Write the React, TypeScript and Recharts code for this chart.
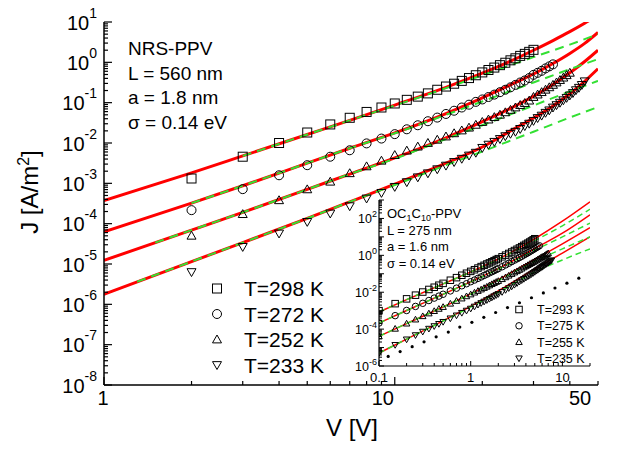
import React from 'react';
import { ComposedChart, Line, Scatter, XAxis, YAxis } from 'recharts';

const FONT = '"Liberation Sans", Arial, Helvetica, sans-serif';
const RED = '#ff0000';
const GREEN = '#33e033';

// ---------- main panel (NRS-PPV), values as log10(J [A/m2]) ----------
const V_MEAS = [2, 3, 4, 5, 6, 7, 8, 9, 10, 11, 12, 13, 14, 15, 16, 17, 18, 19, 20, 21, 22, 23, 24, 25, 26, 27, 28, 29, 30, 31, 32, 33, 34, 35, 36, 37, 38, 39, 40, 41, 42, 43, 44, 45];
const LOGJ_298 = [-2.88, -2.34, -2.0, -1.74, -1.54, -1.375, -1.23, -1.12, -1.02, -0.93, -0.85, -0.77, -0.68, -0.6, -0.53, -0.46, -0.39, -0.32, -0.25, -0.19, -0.13, -0.07, -0.01, 0.05, 0.1, 0.16, 0.21, 0.26, 0.31];
const LOGJ_272 = [-3.665, -3.144, -2.8, -2.55, -2.34, -2.18, -2.01, -1.89, -1.78, -1.66, -1.56, -1.46, -1.37, -1.28, -1.2, -1.12, -1.05, -0.98, -0.92, -0.86, -0.8, -0.74, -0.68, -0.62, -0.56, -0.5, -0.45, -0.39, -0.31, -0.26, -0.21, -0.15, -0.1, -0.05];
const LOGJ_252 = [-4.3, -3.764, -3.42, -3.15, -2.96, -2.75, -2.58, -2.44, -2.3, -2.19, -2.09, -2.0, -1.92, -1.84, -1.76, -1.69, -1.62, -1.55, -1.48, -1.42, -1.36, -1.3, -1.24, -1.18, -1.12, -1.06, -1.01, -0.95, -0.86, -0.8, -0.74, -0.68, -0.62, -0.56, -0.5, -0.44, -0.38, -0.32, -0.26];
const LOGJ_233 = [-5.2, -4.576, -4.243, -3.955, -3.747, -3.566, -3.375, -3.236, -3.087, -2.97, -2.85, -2.75, -2.65, -2.56, -2.47, -2.39, -2.31, -2.24, -2.12, -2.04, -1.97, -1.9, -1.83, -1.77, -1.72, -1.65, -1.58, -1.52, -1.45, -1.38, -1.32, -1.25, -1.19, -1.12, -1.06, -1.0, -0.94, -0.88, -0.82, -0.76, -0.69, -0.63, -0.56, -0.47];

// full model (red)
const V_FIT = [1, 2, 3, 5, 7, 10, 15, 20, 25, 30, 35, 40, 45, 50];
const FIT_298 = [-3.43, -2.74, -2.32, -1.79, -1.44, -1.06, -0.62, -0.27, 0.03, 0.3, 0.54, 0.76, 0.97, 1.17];
const FIT_272 = [-4.2, -3.49, -3.06, -2.5, -2.13, -1.75, -1.27, -0.88, -0.56, -0.29, -0.03, 0.22, 0.47, 0.74];
const FIT_252 = [-4.91, -4.16, -3.72, -3.15, -2.77, -2.37, -1.87, -1.47, -1.14, -0.84, -0.55, -0.26, 0.02, 0.3];
const FIT_233 = [-5.75, -4.94, -4.47, -3.87, -3.46, -3.02, -2.5, -2.1, -1.7, -1.38, -1.08, -0.78, -0.47, -0.16];

// density-only model (green dashed)
const V_DRIFT_298 = [3, 5, 7, 10, 15, 20, 30, 40, 50];
const DRIFT_298 = [-2.32, -1.79, -1.44, -1.07, -0.64, -0.32, 0.13, 0.44, 0.7];
const V_DRIFT_272 = [2, 3, 5, 7, 10, 15, 20, 30, 40, 50];
const DRIFT_272 = [-3.49, -3.06, -2.5, -2.13, -1.76, -1.3, -0.97, -0.5, -0.17, 0.08];
const V_DRIFT_252 = [1.5, 2, 3, 5, 7, 10, 15, 20, 30, 40, 50];
const DRIFT_252 = [-4.47, -4.16, -3.72, -3.15, -2.77, -2.39, -1.9, -1.56, -1.07, -0.72, -0.46];
const V_DRIFT_233 = [1.3, 2, 3, 5, 7, 10, 15, 20, 30, 40, 50];
const DRIFT_233 = [-5.44, -4.94, -4.47, -3.87, -3.46, -3.04, -2.55, -2.21, -1.72, -1.37, -1.11];

const MAIN_LABELS = ['T=298 K', 'T=272 K', 'T=252 K', 'T=233 K'];
const MAIN_TEXT = ['NRS-PPV', 'L = 560 nm', 'a = 1.8 nm', '\u03c3 = 0.14 eV'];

// ---------- inset (OC1C10-PPV) ----------
const V_INSET = [0.1, 0.15, 0.2, 0.25, 0.3, 0.35, 0.4, 0.45, 0.5, 0.6, 0.7, 0.8, 0.9, 1.0, 1.1, 1.2, 1.3, 1.4, 1.5, 1.6, 1.7, 1.8, 1.9, 2.0, 2.2, 2.4, 2.6, 2.8, 3.0, 3.2, 3.4, 3.6, 3.8, 4.0, 4.2, 4.4, 4.6, 4.8, 5.0, 5.2, 5.4, 5.6, 5.8, 6.0, 6.2, 6.4, 6.6, 6.8, 7.0, 7.2, 7.4, 7.6];
const INS_293 = [-3.0, -2.62, -2.36, -2.16, -1.99, -1.85, -1.73, -1.62, -1.52, -1.35, -1.21, -1.08, -0.97, -0.87, -0.78, -0.69, -0.61, -0.54, -0.47, -0.41, -0.35, -0.29, -0.23, -0.18, -0.08, 0.01, 0.1, 0.18, 0.26, 0.33, 0.4, 0.47, 0.54, 0.6, 0.66, 0.72, 0.78, 0.84, 0.9];
const INS_275 = [-3.67, -3.27, -2.99, -2.77, -2.6, -2.45, -2.32, -2.21, -2.11, -1.93, -1.78, -1.65, -1.54, -1.43, -1.34, -1.25, -1.17, -1.09, -1.02, -0.95, -0.89, -0.83, -0.77, -0.72, -0.62, -0.52, -0.43, -0.34, -0.26, -0.19, -0.12, -0.05, 0.02, 0.08, 0.14, 0.2, 0.26, 0.31, 0.37, 0.42, 0.47, 0.52];
const INS_255 = [-4.39, -3.98, -3.7, -3.48, -3.3, -3.15, -3.02, -2.9, -2.8, -2.62, -2.47, -2.34, -2.22, -2.12, -2.02, -1.93, -1.85, -1.77, -1.7, -1.63, -1.56, -1.5, -1.44, -1.39, -1.29, -1.19, -1.1, -1.01, -0.93, -0.86, -0.79, -0.72, -0.65, -0.59, -0.53, -0.47, -0.42, -0.37, -0.32, -0.27, -0.22, -0.18, -0.13, -0.09, -0.05, -0.01, 0.03, 0.07, 0.11];
const INS_235 = [-5.3, -4.86, -4.56, -4.33, -4.14, -3.98, -3.84, -3.72, -3.61, -3.42, -3.26, -3.12, -3.0, -2.89, -2.78, -2.68, -2.59, -2.51, -2.43, -2.36, -2.29, -2.22, -2.16, -2.1, -1.99, -1.88, -1.78, -1.69, -1.6, -1.51, -1.43, -1.35, -1.28, -1.21, -1.14, -1.08, -1.02, -0.96, -0.9, -0.84, -0.79, -0.73, -0.68, -0.63, -0.58, -0.53, -0.49, -0.44, -0.4, -0.35, -0.31, -0.27];

const V_INS_FIT = [0.1, 0.2, 0.5, 1, 2, 5, 10, 20];
const INS_FIT_293 = [-3.07, -2.4, -1.55, -0.9, -0.2, 0.9, 1.85, 2.9];
const INS_FIT_275 = [-3.67, -2.99, -2.11, -1.43, -0.72, 0.37, 1.2, 2.2];
const INS_FIT_255 = [-4.39, -3.7, -2.8, -2.09, -1.32, -0.22, 0.62, 1.5];
const INS_FIT_235 = [-5.3, -4.54, -3.55, -2.77, -1.93, -0.73, 0.12, 1.0];
const INS_DRIFT_293 = [-3.07, -2.4, -1.55, -0.9, -0.22, 0.8, 1.6, 2.5];
const INS_DRIFT_275 = [-3.67, -2.99, -2.11, -1.44, -0.75, 0.28, 1.0, 1.75];
const INS_DRIFT_255 = [-4.39, -3.7, -2.8, -2.1, -1.36, -0.32, 0.35, 1.0];
const INS_DRIFT_235 = [-5.3, -4.54, -3.56, -2.8, -2.0, -0.9, -0.25, 0.35];

// J ~ V^2 reference (black dots)
const V_SCLC = [0.126, 0.17, 0.23, 0.31, 0.42, 0.57, 0.76, 1.03, 1.39, 1.87, 2.52, 3.4, 4.6, 6.2, 8.3, 11.2, 15.1];
const LOGJ_SCLC = [-5.48, -5.22, -4.95, -4.69, -4.42, -4.16, -3.89, -3.63, -3.36, -3.1, -2.83, -2.57, -2.3, -2.04, -1.77, -1.51, -1.24];

const INSET_LABELS = ['T=293 K', 'T=275 K', 'T=255 K', 'T=235 K'];
const INSET_TEXT = ['L = 275 nm', 'a = 1.6 nm', '\u03c3 = 0.14 eV'];

// ---------- axes ----------
const MULT = [1, 2, 3, 4, 5, 6, 7, 8, 9];
const X_TICKS = [1, 2, 3, 4, 5, 6, 7, 8, 9, 10, 20, 30, 40, 50];
const X_LABELS = [1, 10, 50];
const Y_DECADES = [-8, -7, -6, -5, -4, -3, -2, -1, 0, 1];
const Y_TICKS = Y_DECADES.flatMap((e) => MULT.map((m) => m * 10 ** e)).filter((v) => v <= 10.0001);
const IX_TICKS = [-1, 0, 1].flatMap((e) => MULT.map((m) => m * 10 ** e)).filter((v) => v <= 20.0001);
const IX_LABELS = [0.1, 1, 10];
const IY_DECADES = [-6, -5, -4, -3, -2, -1, 0, 1, 2, 3];
const IY_TICKS = IY_DECADES.flatMap((e) => MULT.map((m) => m * 10 ** e)).filter((v) => v <= 1000.001);
const IY_LABELS = [-6, -4, -2, 0, 2];

const pts = (vs: number[], logs: number[]) => logs.map((l, i) => ({ v: vs[i], j: 10 ** l }));
const isDecade = (v: number) => {
  const e = Math.log10(v);
  return Math.abs(e - Math.round(e)) < 1e-6;
};
const same = (a: number, b: number) => Math.abs(a - b) < 1e-9;

function Marker({ cx, cy, kind, s }: { cx: number; cy: number; kind: string; s: number }) {
  const h = s / 2;
  const st = { fill: 'none', stroke: '#000', strokeWidth: 1 };
  if (kind === 'square') return <rect x={cx - h} y={cy - h} width={s} height={s} {...st} />;
  if (kind === 'circle') return <circle cx={cx} cy={cy} r={h} {...st} />;
  if (kind === 'up')
    return <polygon points={`${cx - h},${cy + h * 0.75} ${cx + h},${cy + h * 0.75} ${cx},${cy - h}`} {...st} />;
  return <polygon points={`${cx - h},${cy - h * 0.75} ${cx + h},${cy - h * 0.75} ${cx},${cy + h}`} {...st} />;
}

const KINDS = ['square', 'circle', 'up', 'down'];

const MAIN_SERIES = [
  { meas: pts(V_MEAS, LOGJ_298), fit: pts(V_FIT, FIT_298), drift: pts(V_DRIFT_298, DRIFT_298) },
  { meas: pts(V_MEAS, LOGJ_272), fit: pts(V_FIT, FIT_272), drift: pts(V_DRIFT_272, DRIFT_272) },
  { meas: pts(V_MEAS, LOGJ_252), fit: pts(V_FIT, FIT_252), drift: pts(V_DRIFT_252, DRIFT_252) },
  { meas: pts(V_MEAS, LOGJ_233), fit: pts(V_FIT, FIT_233), drift: pts(V_DRIFT_233, DRIFT_233) },
];

const INSET_SERIES = [
  { meas: pts(V_INSET, INS_293), fit: pts(V_INS_FIT, INS_FIT_293), drift: pts(V_INS_FIT, INS_DRIFT_293) },
  { meas: pts(V_INSET, INS_275), fit: pts(V_INS_FIT, INS_FIT_275), drift: pts(V_INS_FIT, INS_DRIFT_275) },
  { meas: pts(V_INSET, INS_255), fit: pts(V_INS_FIT, INS_FIT_255), drift: pts(V_INS_FIT, INS_DRIFT_255) },
  { meas: pts(V_INSET, INS_235), fit: pts(V_INS_FIT, INS_FIT_235), drift: pts(V_INS_FIT, INS_DRIFT_235) },
];

// ---------- tick renderers (ticks point inwards) ----------
const MainXTick = ({ x, y, payload }: any) => {
  const v = payload.value;
  const len = isDecade(v) ? 8 : 4;
  const nudge = same(v, 10) ? -12 : same(v, 50) ? -18 : -1;
  return (
    <g>
      <line x1={x} x2={x} y1={y} y2={y - len} stroke="#000" strokeWidth={1.2} />
      {X_LABELS.some((l) => same(l, v)) && (
        <text x={x + nudge} y={y + 20} textAnchor="middle" fontSize={20} fontFamily={FONT} fill="#000">
          {v}
        </text>
      )}
    </g>
  );
};
const MainXTopTick = ({ x, y, payload }: any) => (
  <line x1={x} x2={x} y1={y} y2={y + (isDecade(payload.value) ? 8 : 4)} stroke="#000" strokeWidth={1.2} />
);
const MainYTick = ({ x, y, payload }: any) => {
  const v = payload.value;
  const dec = isDecade(v);
  return (
    <g>
      <line x1={x} x2={x + (dec ? 8 : 4)} y1={y} y2={y} stroke="#000" strokeWidth={1.2} />
      {dec && (
        <text x={x - 7} y={y + 7.5} textAnchor="end" fontSize={20} fontFamily={FONT} fill="#000">
          10<tspan dy={-12} fontSize={14}>{Math.round(Math.log10(v))}</tspan>
        </text>
      )}
    </g>
  );
};
const MainYRightTick = ({ x, y, payload }: any) => (
  <line x1={x} x2={x - (isDecade(payload.value) ? 8 : 4)} y1={y} y2={y} stroke="#000" strokeWidth={1.2} />
);

const InsXTick = ({ x, y, payload }: any) => {
  const v = payload.value;
  return (
    <g>
      <line x1={x} x2={x} y1={y} y2={y - (isDecade(v) ? 5 : 3)} stroke="#000" strokeWidth={1} />
      {IX_LABELS.some((l) => same(l, v)) && (
        <text x={x} y={y + 15.5} textAnchor="middle" fontSize={13} fontFamily={FONT} fill="#000">
          {String(v)}
        </text>
      )}
    </g>
  );
};
const InsXTopTick = ({ x, y, payload }: any) => (
  <line x1={x} x2={x} y1={y} y2={y + (isDecade(payload.value) ? 5 : 3)} stroke="#000" strokeWidth={1} />
);
const InsYTick = ({ x, y, payload }: any) => {
  const v = payload.value;
  const dec = isDecade(v);
  const e = Math.round(Math.log10(v));
  return (
    <g>
      <line x1={x} x2={x + (dec ? 5 : 3)} y1={y} y2={y} stroke="#000" strokeWidth={1} />
      {dec && IY_LABELS.includes(e) && (
        <text x={x - 2} y={y + 4.5} textAnchor="end" fontSize={12.5} fontFamily={FONT} fill="#000">
          10<tspan dy={-6} fontSize={9}>{e}</tspan>
        </text>
      )}
    </g>
  );
};
const InsYRightTick = ({ x, y, payload }: any) => (
  <line x1={x} x2={x - (isDecade(payload.value) ? 5 : 3)} y1={y} y2={y} stroke="#000" strokeWidth={1} />
);

const AXIS_LINE = { stroke: '#000', strokeWidth: 1.5 };
const INS_AXIS_LINE = { stroke: '#000', strokeWidth: 1.2 };

function MainChart() {
  return (
    <ComposedChart width={623} height={458} margin={{ top: 22, right: 25, bottom: 0, left: 0 }}>
      <XAxis xAxisId="b" dataKey="v" type="number" scale="log" domain={[1, 50]} allowDataOverflow
        ticks={X_TICKS} interval={0} tickSize={0} tickMargin={0} height={73}
        tick={MainXTick} tickLine={false} axisLine={AXIS_LINE} />
      <XAxis xAxisId="t" orientation="top" dataKey="v" type="number" scale="log" domain={[1, 50]} allowDataOverflow
        ticks={X_TICKS} interval={0} tickSize={0} tickMargin={0} height={0}
        tick={MainXTopTick} tickLine={false} axisLine={AXIS_LINE} />
      <YAxis yAxisId="l" dataKey="j" type="number" scale="log" domain={[1e-8, 10]} allowDataOverflow
        ticks={Y_TICKS} interval={0} tickSize={0} tickMargin={0} width={104}
        tick={MainYTick} tickLine={false} axisLine={AXIS_LINE} />
      <YAxis yAxisId="r" orientation="right" dataKey="j" type="number" scale="log" domain={[1e-8, 10]} allowDataOverflow
        ticks={Y_TICKS} interval={0} tickSize={0} tickMargin={0} width={0}
        tick={MainYRightTick} tickLine={false} axisLine={AXIS_LINE} />
      {MAIN_SERIES.map((s, i) => (
        <Scatter key={`m${i}`} xAxisId="b" yAxisId="l" data={s.meas} dataKey="j" isAnimationActive={false}
          shape={(p: any) => <Marker cx={p.cx} cy={p.cy} kind={KINDS[i]} s={9} />} />
      ))}
      {MAIN_SERIES.map((s, i) => (
        <Line key={`f${i}`} xAxisId="b" yAxisId="l" data={s.fit} dataKey="j" type="monotone"
          stroke={RED} strokeWidth={3} dot={false} isAnimationActive={false} />
      ))}
      {MAIN_SERIES.map((s, i) => (
        <Line key={`d${i}`} xAxisId="b" yAxisId="l" data={s.drift} dataKey="j" type="monotone"
          stroke={GREEN} strokeWidth={2} strokeDasharray="9 6" dot={false} isAnimationActive={false} />
      ))}
    </ComposedChart>
  );
}

function InsetChart() {
  return (
    <ComposedChart width={270} height={200} margin={{ top: 10, right: 10, bottom: 0, left: 0 }}>
      <XAxis xAxisId="b" dataKey="v" type="number" scale="log" domain={[0.1, 20]} allowDataOverflow
        ticks={IX_TICKS} interval={0} tickSize={0} tickMargin={0} height={24}
        tick={InsXTick} tickLine={false} axisLine={INS_AXIS_LINE} />
      <XAxis xAxisId="t" orientation="top" dataKey="v" type="number" scale="log" domain={[0.1, 20]} allowDataOverflow
        ticks={IX_TICKS} interval={0} tickSize={0} tickMargin={0} height={0}
        tick={InsXTopTick} tickLine={false} axisLine={INS_AXIS_LINE} />
      <YAxis yAxisId="l" dataKey="j" type="number" scale="log" domain={[1e-6, 1e3]} allowDataOverflow
        ticks={IY_TICKS} interval={0} tickSize={0} tickMargin={0} width={49}
        tick={InsYTick} tickLine={false} axisLine={INS_AXIS_LINE} />
      <YAxis yAxisId="r" orientation="right" dataKey="j" type="number" scale="log" domain={[1e-6, 1e3]} allowDataOverflow
        ticks={IY_TICKS} interval={0} tickSize={0} tickMargin={0} width={0}
        tick={InsYRightTick} tickLine={false} axisLine={INS_AXIS_LINE} />
      <Scatter xAxisId="b" yAxisId="l" data={pts(V_SCLC, LOGJ_SCLC)} dataKey="j" isAnimationActive={false}
        shape={(p: any) => <circle cx={p.cx} cy={p.cy} r={1.6} fill="#000" />} />
      {INSET_SERIES.map((s, i) => (
        <Scatter key={`m${i}`} xAxisId="b" yAxisId="l" data={s.meas} dataKey="j" isAnimationActive={false}
          shape={(p: any) => <Marker cx={p.cx} cy={p.cy} kind={KINDS[i]} s={6.5} />} />
      ))}
      {INSET_SERIES.map((s, i) => (
        <Line key={`f${i}`} xAxisId="b" yAxisId="l" data={s.fit} dataKey="j" type="monotone"
          stroke={RED} strokeWidth={1.5} dot={false} isAnimationActive={false} />
      ))}
      {INSET_SERIES.map((s, i) => (
        <Line key={`d${i}`} xAxisId="b" yAxisId="l" data={s.drift} dataKey="j" type="monotone"
          stroke={GREEN} strokeWidth={1.5} strokeDasharray="6 4" dot={false} isAnimationActive={false} />
      ))}
    </ComposedChart>
  );
}

export default function App() {
  return (
    <div style={{ position: 'absolute', left: 0, top: 0, width: 623, height: 458, background: '#fff' }}>
      <MainChart />
      <div style={{ position: 'absolute', left: 330, top: 190 }}>
        <InsetChart />
      </div>
      <svg width={623} height={458} fontFamily={FONT}
        style={{ position: 'absolute', left: 0, top: 0, pointerEvents: 'none' }}>
        <text transform="translate(38,192) rotate(-90)" textAnchor="middle" fontSize={24}>
          J [A/m<tspan dy={-9} fontSize={16}>2</tspan><tspan dy={9}>]</tspan>
        </text>
        <text x={352} y={436} textAnchor="middle" fontSize={24}>V [V]</text>

        {MAIN_TEXT.map((t, i) => (
          <text key={t} x={128} y={55 + i * 24.5} fontSize={19}>{t}</text>
        ))}
        {MAIN_LABELS.map((t, i) => (
          <g key={t}>
            <Marker cx={217} cy={288.5 + i * 25.5} kind={KINDS[i]} s={9} />
            <text x={244} y={296 + i * 25.5} fontSize={21}>{t}</text>
          </g>
        ))}

        <text x={387} y={218} fontSize={13}>
          OC<tspan fontSize={9} dy={3}>1</tspan><tspan dy={-3}>C</tspan><tspan fontSize={9} dy={3}>10</tspan><tspan dy={-3}>-PPV</tspan>
        </text>
        {INSET_TEXT.map((t, i) => (
          <text key={t} x={387} y={235 + i * 16.3} fontSize={13}>{t}</text>
        ))}
        {INSET_LABELS.map((t, i) => (
          <g key={t}>
            <Marker cx={519} cy={309.5 + i * 16.3} kind={KINDS[i]} s={6.5} />
            <text x={537} y={314 + i * 16.3} fontSize={12.5}>{t}</text>
          </g>
        ))}
      </svg>
    </div>
  );
}
